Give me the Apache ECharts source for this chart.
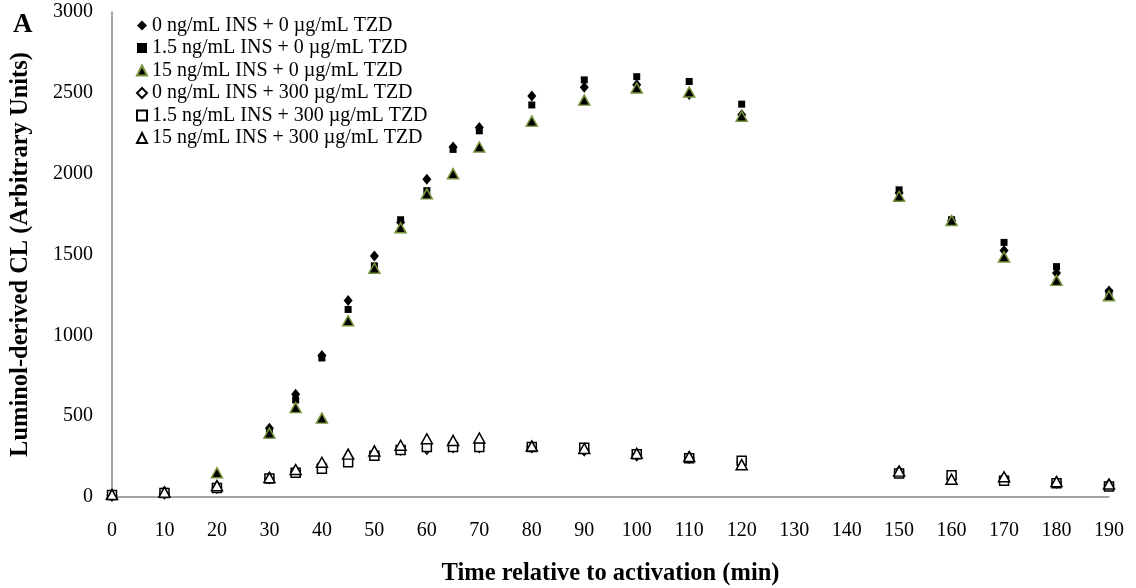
<!DOCTYPE html>
<html><head><meta charset="utf-8">
<script src="https://cdn.jsdelivr.net/npm/echarts@6/dist/echarts.min.js"></script>
<style>html,body{margin:0;padding:0;background:#fff}#c{width:1136px;height:588px}</style>
</head><body><div id="c"></div>
<script>
const times = [0,10,20,30,35,40,45,50,55,60,65,70,80,90,100,110,120,150,160,170,180,190];
const xTicks = [0,10,20,30,40,50,60,70,80,90,100,110,120,130,140,150,160,170,180,190];
const seriesNames = [
  '0 ng/mL INS + 0 µg/mL TZD',
  '1.5 ng/mL INS + 0 µg/mL TZD',
  '15 ng/mL INS + 0 µg/mL TZD',
  '0 ng/mL INS + 300 µg/mL TZD',
  '1.5 ng/mL INS + 300 µg/mL TZD',
  '15 ng/mL INS + 300 µg/mL TZD'
];
const ins0_tzd0   = [15,35,70,425,635,875,1215,1490,1700,1965,2165,2285,2480,2535,2550,2490,2365,1880,1710,1525,1385,1275];
const ins15_tzd0  = [15,35,65,410,600,860,1160,1430,1715,1895,2150,2265,2425,2580,2600,2570,2430,1900,1715,1575,1425,1265];
const ins150_tzd0 = [20,30,150,395,553,488,1090,1415,1665,1875,2000,2165,2325,2455,2530,2505,2355,1860,1710,1485,1340,1245];
const ins0_tzd300   = [10,25,60,118,160,200,230,265,295,300,310,310,310,290,260,245,215,155,115,115,90,75];
const ins15_tzd300  = [12,25,55,115,150,175,215,255,290,310,310,310,310,305,265,240,225,145,135,100,85,65];
const ins150_tzd300 = [15,30,70,120,170,215,265,285,320,360,350,365,315,300,270,250,200,160,110,125,95,80];

const serif = '"Liberation Serif","Times New Roman",serif';
const pair = arr => times.map((t,i)=>[t,arr[i]]);
const styles = [
  {symbol:'diamond', size:[9,11], item:{color:'#000', opacity:1}},
  {symbol:'rect', size:7, item:{color:'#000', opacity:1}},
  {symbol:'triangle', size:[11,10], item:{color:'#000', borderColor:'#77933C', borderWidth:1.5, opacity:1}},
  {symbol:'diamond', size:[9,11], item:{color:'#fff', borderColor:'#000', borderWidth:1.5, opacity:1}},
  {symbol:'rect', size:9, item:{color:'#fff', borderColor:'#000', borderWidth:1.5, opacity:1}},
  {symbol:'triangle', size:[11,10], item:{color:'#fff', borderColor:'#000', borderWidth:1.5, opacity:1}}
];
const datasets = [ins0_tzd0, ins15_tzd0, ins150_tzd0, ins0_tzd300, ins15_tzd300, ins150_tzd300];

const chart = echarts.init(document.getElementById('c'), null, {renderer:'canvas'});
chart.setOption({
  animation:false,
  backgroundColor:'#fff',
  textStyle:{fontFamily:serif},
  grid:{left:112, right:27, top:12, bottom:91, containLabel:false, outerBoundsMode:'none'},
  legend:{
    orient:'vertical', left:131, top:10, itemGap:1.5, itemWidth:10, itemHeight:10,
    textStyle:{fontFamily:serif, fontSize:20, color:'#000', lineHeight:21},
    data: seriesNames.map((n,i)=>({name:n, icon: styles[i].symbol}))
  },
  xAxis:{
    type:'value', min:0, max:190, interval:10,
    axisLine:{lineStyle:{color:'#868686', width:1.5}},
    axisTick:{show:false}, splitLine:{show:false},
    axisLabel:{color:'#000', fontSize:20, fontFamily:serif, margin:24,
      customValues: xTicks, formatter: v => String(v)},
    name:'Time relative to activation (min)', nameLocation:'middle', nameGap:64,
    nameTextStyle:{fontFamily:serif, fontSize:24.5, fontWeight:'bold', color:'#000'}
  },
  yAxis:{
    type:'value', min:0, max:3000, interval:500,
    axisLine:{show:true, lineStyle:{color:'#868686', width:1.5}},
    axisTick:{show:false}, splitLine:{show:false},
    axisLabel:{color:'#000', fontSize:20, fontFamily:serif, margin:19, formatter: v => String(v)},
    name:'Luminol-derived CL (Arbitrary Units)', nameLocation:'middle', nameGap:79,
    nameTextStyle:{fontFamily:serif, fontSize:24.5, fontWeight:'bold', color:'#000'}
  },
  graphic:[{type:'text', left:13, top:12, style:{text:'A', font:'bold 27px '+serif, fill:'#000'}}],
  series: datasets.map((d,i)=>({
    name: seriesNames[i], type:'scatter', data: pair(d),
    symbol: styles[i].symbol, symbolSize: styles[i].size, itemStyle: styles[i].item,
    z: 2+i
  }))
});
</script></body></html>
